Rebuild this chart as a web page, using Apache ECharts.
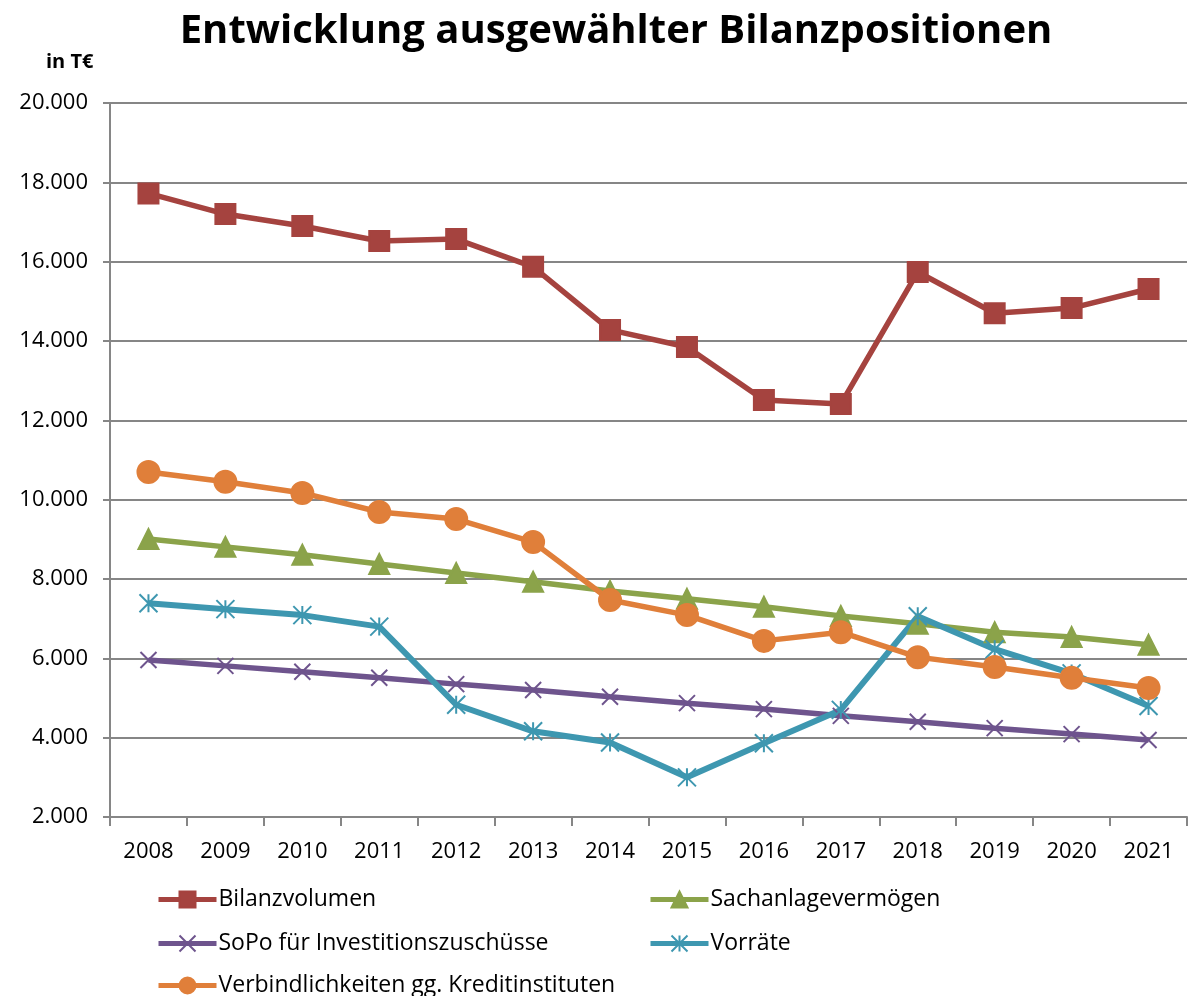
<!DOCTYPE html>
<html>
<head>
<meta charset="utf-8">
<script src="https://cdn.jsdelivr.net/npm/echarts@6/dist/echarts.min.js"></script>
<style>
html, body { margin: 0; padding: 0; background: #fff; }
#chart { width: 1197px; height: 996px; }
</style>
</head>
<body>
<div id="chart"></div>
<script>
// Jahre und Werte (in T€)
var years = ['2008', '2009', '2010', '2011', '2012', '2013', '2014', '2015', '2016', '2017', '2018', '2019', '2020', '2021'];
var bilanzvolumen = [17720, 17200, 16900, 16520, 16570, 15870, 14280, 13850, 12510, 12410, 15740, 14700, 14830, 15310];
var sachanlage = [9010, 8810, 8610, 8380, 8150, 7930, 7700, 7500, 7300, 7070, 6870, 6660, 6540, 6340];
var sopo = [5960, 5810, 5660, 5510, 5350, 5200, 5030, 4870, 4720, 4550, 4400, 4240, 4090, 3940];
var vorraete = [7390, 7240, 7090, 6800, 4830, 4160, 3880, 3000, 3860, 4700, 7060, 6230, 5620, 4800];
var verbindlichkeiten = [10700, 10450, 10170, 9690, 9510, 8930, 7470, 7090, 6440, 6660, 6030, 5780, 5510, 5250];

var fontName = '"Open Sans", "Noto Sans", sans-serif';
var gridColor = '#868686';

var crossPath = 'path://M0,0L10,10M10,0L0,10';
var starPath = 'path://M5,0L5,10M0,0L10,10M10,0L0,10';

function lineSeries(name, data, color, symbol, size, width) {
    return {
        name: name,
        type: 'line',
        data: data,
        symbol: symbol,
        symbolSize: size,
        showAllSymbol: true,
        lineStyle: { color: color, width: width },
        itemStyle: { color: color, borderColor: color, borderWidth: 2 },
        emphasis: { disabled: true },
        animation: false
    };
}

// Legende: ein Eintrag pro Legende, damit die zwei Spalten sauber stehen
function legendItem(name, left, top) {
    return {
        left: left,
        top: top,
        padding: 0,
        itemWidth: 58,
        itemHeight: 20,
        lineStyle: { width: 5 },
        data: [name],
        textStyle: { fontSize: 23, color: '#000', fontFamily: fontName, padding: [0, 0, 0, -3] }
    };
}

var myChart = echarts.init(document.getElementById('chart'));
var option = {
    backgroundColor: '#fff',
    textStyle: { fontFamily: fontName },
    title: [
        {
            text: 'Entwicklung ausgewählter Bilanzpositionen',
            left: 611,
            textAlign: 'center',
            top: 7,
            textStyle: { fontSize: 40, fontWeight: 'bold', color: '#000', fontFamily: fontName }
        },
        {
            text: 'in T€',
            left: 41,
            top: 47,
            textStyle: { fontSize: 20, fontWeight: 'bold', color: '#000', fontFamily: fontName }
        }
    ],
    grid: {
        left: 110,
        right: 10,
        top: 103,
        bottom: 179,
        containLabel: false
    },
    legend: [
        legendItem('Bilanzvolumen', 156, 888),
        legendItem('Sachanlagevermögen', 648, 888),
        legendItem('SoPo für Investitionszuschüsse', 156, 932),
        legendItem('Vorräte', 648, 932),
        legendItem('Verbindlichkeiten gg. Kreditinstituten', 156, 974)
    ],
    xAxis: {
        type: 'category',
        data: years,
        boundaryGap: true,
        axisLine: { lineStyle: { color: gridColor, width: 2 } },
        axisTick: { show: true, length: 9, lineStyle: { color: gridColor, width: 2 } },
        axisLabel: { fontSize: 22, color: '#000', margin: 24, fontFamily: fontName },
        splitLine: { show: false }
    },
    yAxis: {
        type: 'value',
        min: 2000,
        max: 20000,
        interval: 2000,
        axisLine: { show: true, lineStyle: { color: gridColor, width: 2 } },
        axisTick: { show: true, length: 7, lineStyle: { color: gridColor, width: 2 } },
        axisLabel: {
            fontSize: 22,
            color: '#000',
            margin: 22,
            fontFamily: fontName,
            formatter: function (v) {
                return String(v).replace(/\B(?=(\d{3})+(?!\d))/g, '.');
            }
        },
        splitLine: { show: true, lineStyle: { color: gridColor, width: 2 } }
    },
    series: [
        lineSeries('Bilanzvolumen', bilanzvolumen, '#A5433F', 'rect', 20, 5.5),
        lineSeries('Sachanlagevermögen', sachanlage, '#8BA34A', 'triangle', 20, 5.5),
        lineSeries('SoPo für Investitionszuschüsse', sopo, '#6E548D', crossPath, 16, 5.5),
        lineSeries('Vorräte', vorraete, '#3E97B0', starPath, 18, 6),
        lineSeries('Verbindlichkeiten gg. Kreditinstituten', verbindlichkeiten, '#E07F3A', 'circle', 22, 5.5)
    ]
};
myChart.setOption(option);
</script>
</body>
</html>
